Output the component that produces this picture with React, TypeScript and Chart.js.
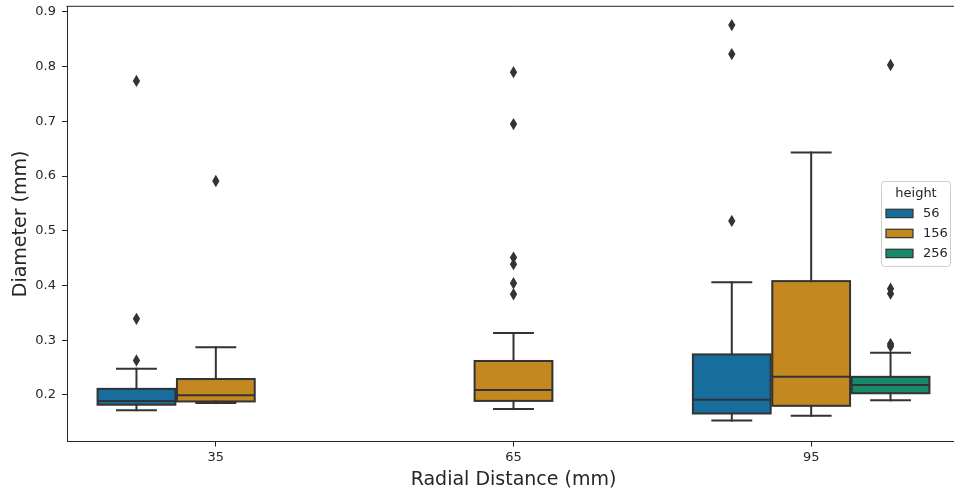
import React, { useEffect, useRef } from 'react';
import { Chart, registerables } from 'chart.js';

Chart.register(...registerables);

// ---------- data ----------
const categories = ['35', '65', '95'];
const hueLevels = ['56', '156', '256'];
const yTickValues = [0.2, 0.3, 0.4, 0.5, 0.6, 0.7, 0.8, 0.9];

// height 56
const whiskerLow56 = [0.172, null, 0.153];
const q1_56 = [0.182, null, 0.166];
const median56 = [0.189, null, 0.191];
const q3_56 = [0.211, null, 0.274];
const whiskerHigh56 = [0.248, null, 0.406];
const outliers56 = [[0.263, 0.339, 0.774], [], [0.518, 0.823, 0.876]];

// height 156
const whiskerLow156 = [0.185, 0.174, 0.162];
const q1_156 = [0.188, 0.189, 0.18];
const median156 = [0.1995, 0.209, 0.233];
const q3_156 = [0.229, 0.262, 0.408];
const whiskerHigh156 = [0.287, 0.313, 0.643];
const outliers156 = [[0.591], [0.384, 0.404, 0.439, 0.451, 0.695, 0.79], []];

// height 256
const whiskerLow256 = [null, null, 0.19];
const q1_256 = [null, null, 0.203];
const median256 = [null, null, 0.218];
const q3_256 = [null, null, 0.233];
const whiskerHigh256 = [null, null, 0.277];
const outliers256 = [[], [], [0.289, 0.293, 0.385, 0.394, 0.803]];

// ---------- styles ----------
const hueColors = ['rgb(23,109,156)', 'rgb(195,136,32)', 'rgb(22,138,106)'];
const LINE = '#333333';
const AXIS = '#262626';
const FONT = "'DejaVu Sans', sans-serif";

const stats = [
  { lo: whiskerLow56, q1: q1_56, med: median56, q3: q3_56, hi: whiskerHigh56, out: outliers56 },
  { lo: whiskerLow156, q1: q1_156, med: median156, q3: q3_156, hi: whiskerHigh156, out: outliers156 },
  { lo: whiskerLow256, q1: q1_256, med: median256, q3: q3_256, hi: whiskerHigh256, out: outliers256 },
];

const boxPlugin = {
  id: 'boxDetails',
  afterDatasetsDraw(chart: any) {
    const ctx = chart.ctx as CanvasRenderingContext2D;
    const ys = chart.scales.y;
    const line = (x1: number, y1: number, x2: number, y2: number) => {
      ctx.beginPath();
      ctx.moveTo(x1, y1);
      ctx.lineTo(x2, y2);
      ctx.stroke();
    };
    ctx.save();
    ctx.strokeStyle = LINE;
    ctx.fillStyle = LINE;
    stats.forEach((s, i) => {
      const meta = chart.getDatasetMeta(i);
      categories.forEach((_, j) => {
        if (s.q1[j] == null) return;
        const el = meta.data[j];
        const { x, width } = el.getProps(['x', 'width'], true);
        const yLo = ys.getPixelForValue(s.lo[j]);
        const yQ1 = ys.getPixelForValue(s.q1[j]);
        const yMed = ys.getPixelForValue(s.med[j]);
        const yQ3 = ys.getPixelForValue(s.q3[j]);
        const yHi = ys.getPixelForValue(s.hi[j]);
        ctx.lineWidth = 2;
        ctx.lineCap = 'square';
        ctx.lineJoin = 'miter';
        line(x, yQ3, x, yHi);
        line(x, yQ1, x, yLo);
        line(x - width / 4, yHi, x + width / 4, yHi);
        line(x - width / 4, yLo, x + width / 4, yLo);
        ctx.lineCap = 'butt';
        ctx.strokeRect(x - width / 2, yQ3, width, yQ1 - yQ3);
        line(x - width / 2, yMed, x + width / 2, yMed);
        // outliers (thin diamonds)
        ctx.lineWidth = 1.3;
        (s.out[j] as number[]).forEach((v) => {
          const py = ys.getPixelForValue(v);
          ctx.beginPath();
          ctx.moveTo(x, py - 4.9);
          ctx.lineTo(x + 2.9, py);
          ctx.lineTo(x, py + 4.9);
          ctx.lineTo(x - 2.9, py);
          ctx.closePath();
          ctx.fill();
          ctx.stroke();
        });
      });
    });
    // top spine
    const a = chart.chartArea;
    ctx.strokeStyle = AXIS;
    ctx.lineWidth = 1;
    line(a.left - 0.5, a.top, a.right, a.top);
    ctx.restore();
  },
  afterDraw(chart: any) {
    const ctx = chart.ctx as CanvasRenderingContext2D;
    const a = chart.chartArea;
    const w = 69;
    const h = 85;
    const left = a.right - 78.5;
    const top = (a.top + a.bottom) / 2 - h / 2;
    ctx.save();
    // frame
    const r = 3;
    ctx.beginPath();
    ctx.moveTo(left + r, top);
    ctx.lineTo(left + w - r, top);
    ctx.arcTo(left + w, top, left + w, top + r, r);
    ctx.lineTo(left + w, top + h - r);
    ctx.arcTo(left + w, top + h, left + w - r, top + h, r);
    ctx.lineTo(left + r, top + h);
    ctx.arcTo(left, top + h, left, top + h - r, r);
    ctx.lineTo(left, top + r);
    ctx.arcTo(left, top, left + r, top, r);
    ctx.closePath();
    ctx.fillStyle = 'rgba(255,255,255,0.8)';
    ctx.fill();
    ctx.strokeStyle = '#cccccc';
    ctx.lineWidth = 1;
    ctx.stroke();
    // title
    ctx.font = `13px ${FONT}`;
    ctx.fillStyle = AXIS;
    ctx.textAlign = 'center';
    ctx.textBaseline = 'middle';
    ctx.fillText('height', left + w / 2, top + 12.5);
    // entries
    ctx.textAlign = 'left';
    hueLevels.forEach((lbl, i) => {
      const cy = top + 32 + i * 20;
      ctx.fillStyle = hueColors[i];
      ctx.fillRect(left + 4.5, cy - 4.2, 27, 8.4);
      ctx.strokeStyle = LINE;
      ctx.lineWidth = 1.2;
      ctx.strokeRect(left + 4.5, cy - 4.2, 27, 8.4);
      ctx.fillStyle = AXIS;
      ctx.fillText(lbl, left + 41.5, cy + 0.5);
    });
    ctx.restore();
  },
};

export default function App() {
  const ref = useRef<HTMLCanvasElement>(null);
  useEffect(() => {
    if (!ref.current) return;
    Chart.defaults.font.family = FONT;
    const chart = new Chart(ref.current, {
      type: 'bar',
      data: {
        labels: categories,
        datasets: hueLevels.map((lvl, i) => ({
          label: lvl,
          data: categories.map((_, j) =>
            stats[i].q1[j] == null ? null : [stats[i].q1[j] as number, stats[i].q3[j] as number]
          ),
          backgroundColor: hueColors[i],
          borderWidth: 0,
          categoryPercentage: 0.8,
          barPercentage: 0.98,
        })),
      } as any,
      options: {
        responsive: false,
        animation: false,
        devicePixelRatio: 1,
        layout: { padding: { left: 0, right: 0, top: 6.3, bottom: 0 } },
        plugins: { legend: { display: false }, tooltip: { enabled: false } },
        scales: {
          x: {
            type: 'category',
            offset: true,
            grid: { display: true, drawOnChartArea: false, drawTicks: true, tickLength: 5, color: AXIS, offset: false },
            border: { display: true, color: AXIS, width: 1 },
            ticks: { color: AXIS, font: { size: 13, family: FONT }, padding: 3, maxRotation: 0 },
            title: {
              display: true,
              text: 'Radial Distance (mm)',
              color: AXIS,
              font: { size: 19, family: FONT, lineHeight: 1 },
              padding: { top: 0, bottom: 0 },
            },
            afterFit: (scale: any) => {
              scale.height = 48.4;
              scale.paddingLeft = 0;
              scale.paddingRight = 0;
            },
          },
          y: {
            type: 'linear',
            min: 0.1146,
            max: 0.9104,
            grid: { display: true, drawOnChartArea: false, drawTicks: true, tickLength: 5, color: AXIS },
            border: { display: true, color: AXIS, width: 1 },
            ticks: {
              color: AXIS,
              font: { size: 13, family: FONT },
              padding: 6,
              callback: (v: any) => Number(v).toFixed(1),
            },
            afterBuildTicks: (scale: any) => {
              scale.ticks = yTickValues.map((v) => ({ value: v }));
            },
            title: {
              display: true,
              text: 'Diameter (mm)',
              color: AXIS,
              font: { size: 19, family: FONT, lineHeight: 1 },
              padding: { top: 11.5, bottom: 0 },
            },
            afterFit: (scale: any) => {
              scale.width = 67;
              scale.paddingTop = 0;
              scale.paddingBottom = 0;
            },
          },
        },
      } as any,
      plugins: [boxPlugin],
    });
    return () => chart.destroy();
  }, []);
  return (
    <div
      style={{
        position: 'absolute',
        left: 0,
        top: 0,
        width: 954,
        height: 490,
        overflow: 'hidden',
        background: '#fff',
      }}
    >
      <canvas ref={ref} width={960} height={490} style={{ display: 'block', width: 960, height: 490 }} />
    </div>
  );
}
